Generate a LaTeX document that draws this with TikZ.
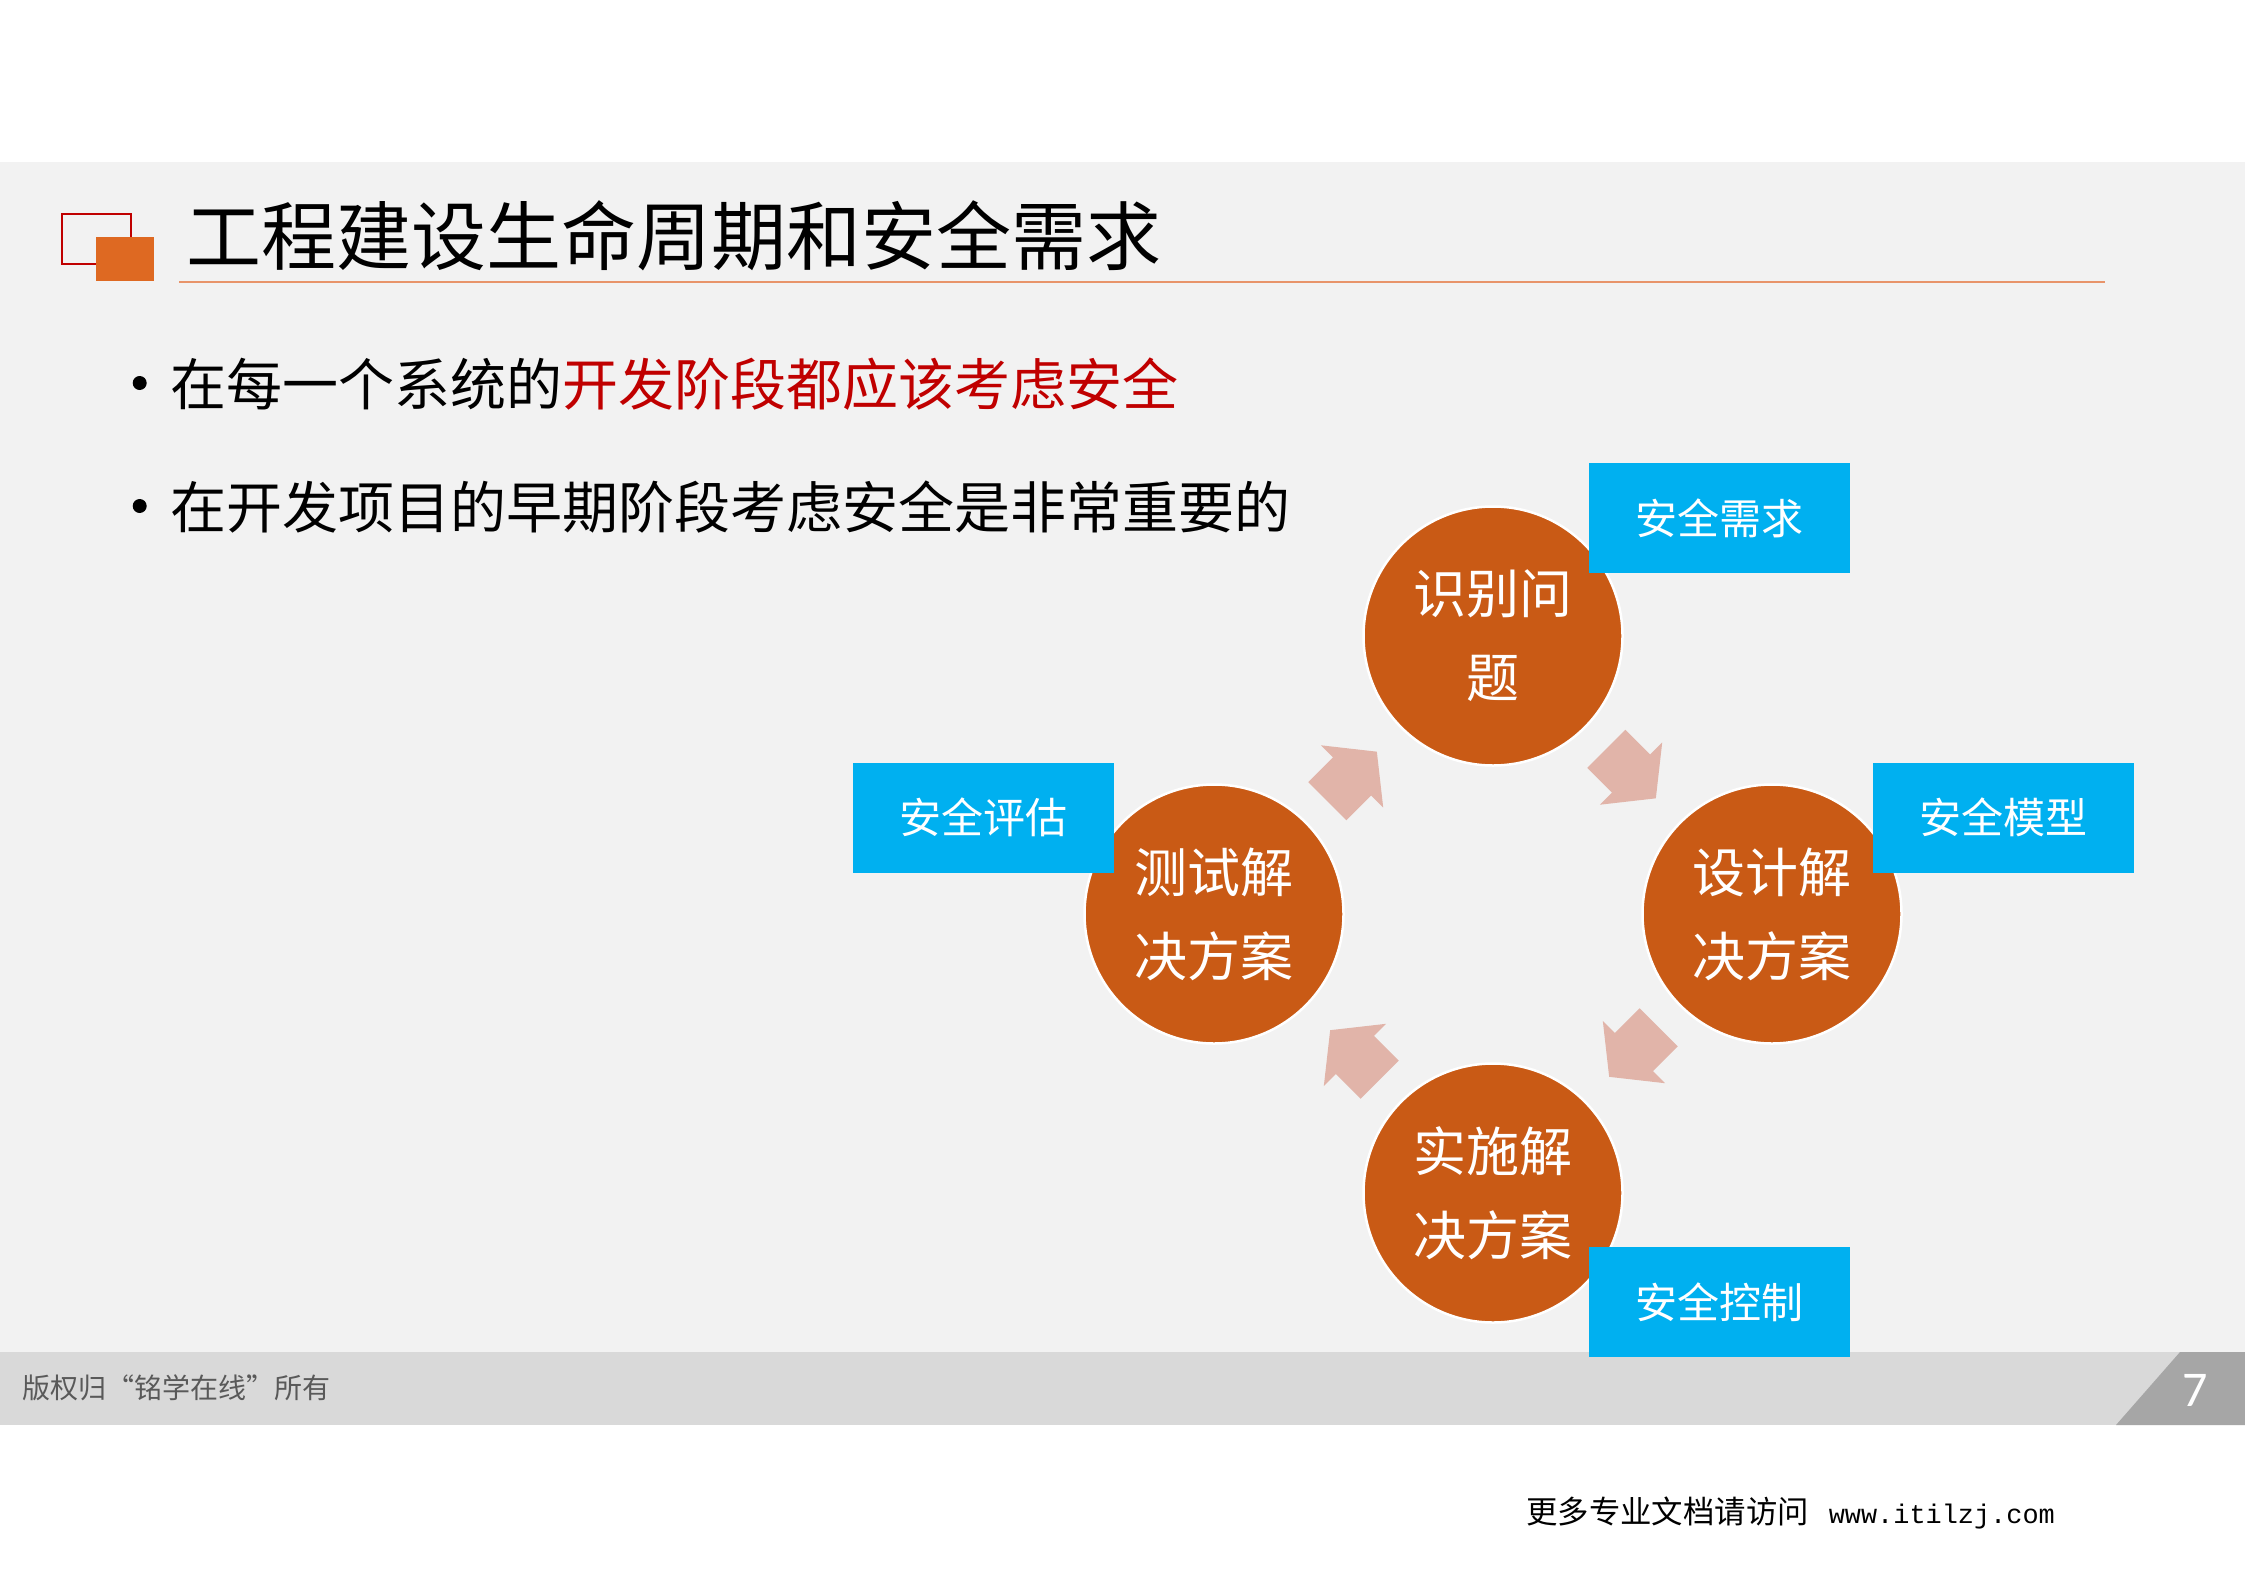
\documentclass[tikz,border=0pt]{standalone}
\usepackage{fontspec}
\setmainfont{Liberation Sans}
\newfontfamily\cjk{Noto Sans CJK SC}
\newfontfamily\monof{Liberation Mono}
\newfontfamily\numf{Carlito}
\usetikzlibrary{calc}
\definecolor{panel}{HTML}{F2F2F2}
\definecolor{footband}{HTML}{D9D9D9}
\definecolor{footdark}{HTML}{A6A6A6}
\definecolor{circorange}{HTML}{C95A15}
\definecolor{iconorange}{HTML}{DE6922}
\definecolor{iconred}{HTML}{C00000}
\definecolor{lineorange}{HTML}{E8946A}
\definecolor{tagblue}{HTML}{00B0F0}
\definecolor{arrowpink}{HTML}{E1B4A9}
\definecolor{hired}{HTML}{C00000}
\definecolor{foottext}{HTML}{595959}
\newcommand\blockarrow[2]{\fill[arrowfill, shift={(#1)}, rotate=#2] (33,0) -- (-2,-44) -- (-2,-27) -- (-37,-27) -- (-37,27) -- (-2,27) -- (-2,44) -- cycle;}
\begin{document}
\begin{tikzpicture}[x=1pt,y=-1pt,
  stage/.style={circle, fill=circorange, draw=white, line width=2.5pt, minimum size=259pt, inner sep=0pt, text=white, align=center, font=\cjk\fontsize{53}{84}\selectfont},
  tagbox/.style={rectangle, fill=tagblue, minimum width=261pt, minimum height=110pt, inner sep=0pt, text=white, font=\cjk\fontsize{42}{50}\selectfont},
  arrowfill/.style={fill=arrowpink},
  bodytext/.style={anchor=west, inner sep=0pt, font=\cjk\fontsize{56}{62}\selectfont},
  bulletdot/.style={circle, fill=black, minimum size=14pt, inner sep=0pt}
]
\useasboundingbox (0,0) rectangle (2245,1587);
\fill[white] (0,0) rectangle (2245,1587);
% panel and footer
\fill[panel] (0,162) rectangle (2245,1352);
\fill[footband] (0,1352) rectangle (2245,1425);
\fill[footdark] (2116,1425) -- (2180,1352) -- (2245,1352) -- (2245,1425) -- cycle;
\node[text=white, inner sep=0pt, font=\numf\fontsize{50}{56}\selectfont] (pagenum) at (2195,1390) {7};
\node[anchor=west, inner sep=0pt, text=foottext, font=\cjk\fontsize{28}{32}\selectfont] (copyright) at (22,1388) {版权归“铭学在线”所有};
\node[anchor=base west, inner sep=0pt] (more) at (1526,1523) {{\cjk\fontsize{31.4}{36}\selectfont 更多专业文档请访问}\hspace{20pt}{\monof\fontsize{26.9}{30}\selectfont www.itilzj.com}};
% title icon
\draw[iconred, line width=2.5pt] (62,214) rectangle (131,264);
\fill[iconorange] (96,237) rectangle (154,281);
\node[anchor=west, inner sep=0pt, font=\cjk\fontsize{75}{90}\selectfont] (title) at (186,236) {工程建设生命周期和安全需求};
\draw[lineorange, line width=2pt] (179,282) -- (2105,282);
% bullets
\node[bulletdot] (b1) at (139.7,383) {};
\node[bodytext] (t1) at (170,384) {在每一个系统的\textcolor{hired}{开发阶段都应该考虑安全}};
\node[bulletdot] (b2) at (139.7,506) {};
\node[bodytext] (t2) at (170,507) {在开发项目的早期阶段考虑安全是非常重要的};
% cycle
\coordinate (ctop) at (1493,636);
\coordinate (cleft) at (1214,914);
\coordinate (cright) at (1772,914);
\coordinate (cbottom) at (1493,1193);
\coordinate (m1) at ($(cleft)!0.5!(ctop)$);
\coordinate (m2) at ($(ctop)!0.5!(cright)$);
\coordinate (m3) at ($(cright)!0.5!(cbottom)$);
\coordinate (m4) at ($(cbottom)!0.5!(cleft)$);
\blockarrow{m1}{45}
\blockarrow{m2}{-45}
\blockarrow{m3}{-135}
\blockarrow{m4}{135}
\node[stage] (identify) at (ctop) {识别问\\题};
\node[stage] (test) at (cleft) {测试解\\决方案};
\node[stage] (design) at (cright) {设计解\\决方案};
\node[stage] (implement) at (cbottom) {实施解\\决方案};
\node[tagbox] (req) at (1719.5,518) {安全需求};
\node[tagbox] (eval) at (983.5,817.5) {安全评估};
\node[tagbox] (model) at (2003,817.5) {安全模型};
\node[tagbox] (ctrl) at (1719.5,1302) {安全控制};
\end{tikzpicture}
\end{document}
